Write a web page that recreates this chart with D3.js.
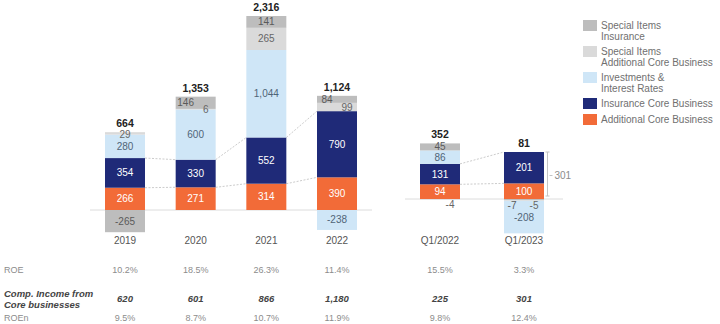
<!DOCTYPE html>
<html>
<head>
<meta charset="utf-8">
<script src="https://cdn.jsdelivr.net/npm/d3@7"></script>
<style>
  body { margin: 0; background: #fff; }
  svg { display: block; font-family: "Liberation Sans", Arial, sans-serif; }
</style>
</head>
<body>
<script>
// values
const annual = ["2019", "2020", "2021", "2022"];
const quarterly = ["Q1/2022", "Q1/2023"];
const categories = annual.concat(quarterly);

const additionalCore = [266, 271, 314, 390, 94, 100];
const insuranceCore = [354, 330, 552, 790, 131, 201];
const investments = [280, 600, 1044, -238, 86, -208];
const specialAdditional = [29, 6, 265, 99, -4, -5];
const specialInsurance = [-265, 146, 141, 84, 45, -7];
const totals = ["664", "1,353", "2,316", "1,124", "352", "81"];

const roe = ["10.2%", "18.5%", "26.3%", "11.4%", "15.5%", "3.3%"];
const compIncome = ["620", "601", "866", "1,180", "225", "301"];
const roen = ["9.5%", "8.7%", "10.7%", "11.9%", "9.8%", "12.4%"];

const width = 720, height = 324;
const barWidth = 40;
const fmt = v => (v < 0 ? "-" : "") + d3.format(",")(Math.abs(v));

// stack order from the baseline upwards
const series = [
    {key: "add", values: additionalCore, fill: "#f26b38", label: "#ffffff", legend: ["Additional Core Business"]},
    {key: "ins", values: insuranceCore, fill: "#1f2a78", label: "#ffffff", legend: ["Insurance Core Business"]},
    {key: "inv", values: investments, fill: "#cfe6f7", label: "#4f6577", legend: ["Investments &", "Interest Rates"]},
    {key: "spAdd", values: specialAdditional, fill: "#dadada", label: "#666666", legend: ["Special Items", "Additional Core Business"], special: true},
    {key: "spIns", values: specialInsurance, fill: "#bdbdbd", label: "#5a5a5a", legend: ["Special Items", "Insurance"], special: true}
];
// below zero the special items sit next to the line
const negOrder = ["spIns", "spAdd", "inv", "ins", "add"];

const svg = d3.select("body").append("svg")
    .attr("width", width)
    .attr("height", height);

const xA = d3.scalePoint().domain(annual).range([125, 337]);
const xQ = d3.scalePoint().domain(quarterly).range([440, 524]);
const yA = d3.scaleLinear().domain([0, 2316]).range([210, 16]);
const yQ = d3.scaleLinear().domain([0, 301]).range([199, 152]);

const xOf = c => annual.includes(c) ? xA(c) : xQ(c);
const yOf = c => annual.includes(c) ? yA : yQ;

// baselines
svg.append("line").attr("x1", 90).attr("x2", 372)
    .attr("y1", yA(0)).attr("y2", yA(0))
    .attr("stroke", "#dcdcdc").attr("stroke-width", 1);
svg.append("line").attr("x1", 405).attr("x2", 563)
    .attr("y1", yQ(0)).attr("y2", yQ(0))
    .attr("stroke", "#dcdcdc").attr("stroke-width", 1);

// connector lines between the core business levels
const connectors = svg.append("g");
[annual, quarterly].forEach(group => {
    for (let k = 0; k < group.length - 1; k++) {
        const a = categories.indexOf(group[k]), b = categories.indexOf(group[k + 1]);
        const y = yOf(group[k]);
        [[additionalCore[a], additionalCore[b]],
         [additionalCore[a] + insuranceCore[a], additionalCore[b] + insuranceCore[b]]].forEach(lv => {
            connectors.append("line")
                .attr("x1", xOf(group[k]) + barWidth / 2)
                .attr("x2", xOf(group[k + 1]) - barWidth / 2)
                .attr("y1", y(lv[0]))
                .attr("y2", y(lv[1]))
                .attr("stroke", "#cccccc")
                .attr("stroke-width", 1)
                .attr("stroke-dasharray", "2,1.5");
        });
    }
});

// build segments
let segments = [];
categories.forEach((c, i) => {
    let pos = 0, neg = 0;
    series.forEach(s => {
        const v = s.values[i];
        if (v > 0) { segments.push({c, i, s, v, y0: pos, y1: pos + v}); pos += v; }
    });
    negOrder.forEach(k => {
        const s = series.find(d => d.key === k);
        const v = s.values[i];
        if (v < 0) { segments.push({c, i, s, v, y0: neg, y1: neg + v}); neg += v; }
    });
    segments.filter(d => d.i === i).forEach(d => d.top = pos);
});

const bars = svg.append("g");
bars.selectAll("rect")
    .data(segments)
    .enter()
    .append("rect")
    .attr("x", d => xOf(d.c) - barWidth / 2)
    .attr("width", barWidth)
    .attr("y", d => Math.min(yOf(d.c)(d.y0), yOf(d.c)(d.y1)))
    .attr("height", d => Math.max(0.6, Math.abs(yOf(d.c)(d.y1) - yOf(d.c)(d.y0))))
    .attr("fill", d => d.s.fill);

// where the number goes
function labelPos(d) {
    const y = yOf(d.c);
    const cx = xOf(d.c);
    const h = Math.abs(y(d.y1) - y(d.y0));
    let px = cx, py = (y(d.y0) + y(d.y1)) / 2;
    if (d.s.special) {
        const other = d.s.key === "spIns" ? specialAdditional[d.i] : specialInsurance[d.i];
        const oh = Math.abs(y(other) - y(0));
        const small = h < 10 || oh < 10;
        if (d.v < 0 && h < 10) {
            py = y(d.y1) + 5;
            px = cx + (d.s.key === "spIns" ? -12 : 10);
        } else if (small && other * d.v > 0) {
            px = cx + (d.s.key === "spIns" ? -10 : 10);
        } else if (h < 5) {
            py += 1;
        }
    }
    return [px, py];
}

bars.selectAll("text")
    .data(segments)
    .enter()
    .append("text")
    .attr("x", d => labelPos(d)[0])
    .attr("y", d => labelPos(d)[1])
    .attr("dy", "0.35em")
    .attr("text-anchor", "middle")
    .style("font-size", "10px")
    .style("fill", d => d.s.label)
    .text(d => fmt(d.v));

// totals on top
svg.append("g").selectAll("text")
    .data(categories)
    .enter()
    .append("text")
    .attr("x", d => xOf(d))
    .attr("y", (d, i) => yOf(d)(segments.find(s => s.i === i).top) - 5)
    .attr("text-anchor", "middle")
    .style("font-size", "10.5px")
    .style("font-weight", "bold")
    .style("fill", "#222")
    .text((d, i) => totals[i]);

// bracket for the core result of Q1/2023
const qLast = categories.length - 1;
const core = additionalCore[qLast] + insuranceCore[qLast];
const bx = xQ(quarterly[1]) + barWidth / 2 + 3.5;
const br = svg.append("g").attr("stroke", "#c4c4c4").attr("stroke-width", 1);
br.append("line").attr("x1", bx).attr("x2", bx).attr("y1", yQ(core)).attr("y2", yQ(0) - 3);
br.append("line").attr("x1", bx - 2).attr("x2", bx + 2).attr("y1", yQ(core)).attr("y2", yQ(core));
br.append("line").attr("x1", bx - 2).attr("x2", bx + 2).attr("y1", yQ(0) - 3).attr("y2", yQ(0) - 3);
br.append("line").attr("x1", bx + 2).attr("x2", bx + 5).attr("y1", yQ(core / 2)).attr("y2", yQ(core / 2));
svg.append("text")
    .attr("x", bx + 7)
    .attr("y", yQ(core / 2))
    .attr("dy", "0.35em")
    .style("font-size", "10px")
    .style("fill", "#8c8c8c")
    .text(core);

// category labels
svg.append("g").selectAll("text")
    .data(categories)
    .enter()
    .append("text")
    .attr("x", d => xOf(d))
    .attr("y", 244)
    .attr("text-anchor", "middle")
    .style("font-size", "10px")
    .style("fill", "#555")
    .text(d => d);

// table below the chart
const table = svg.append("g");
table.append("text").attr("x", 4).attr("y", 273)
    .style("font-size", "9px").style("fill", "#8c8c8c").text("ROE");
table.append("text").attr("x", 4).attr("y", 297)
    .style("font-size", "9.5px").style("font-weight", "bold").style("font-style", "italic")
    .style("fill", "#444").text("Comp. Income from");
table.append("text").attr("x", 4).attr("y", 308)
    .style("font-size", "9.5px").style("font-weight", "bold").style("font-style", "italic")
    .style("fill", "#444").text("Core businesses");
table.append("text").attr("x", 4).attr("y", 321)
    .style("font-size", "9px").style("fill", "#8c8c8c").text("ROEn");

const rows = [
    {vals: roe, y: 273, bold: false},
    {vals: compIncome, y: 302, bold: true},
    {vals: roen, y: 321, bold: false}
];
rows.forEach(r => {
    table.append("g").selectAll("text")
        .data(r.vals)
        .enter()
        .append("text")
        .attr("x", (d, i) => xOf(categories[i]))
        .attr("y", r.y)
        .attr("text-anchor", "middle")
        .style("font-size", r.bold ? "9.5px" : "9px")
        .style("font-weight", r.bold ? "bold" : "normal")
        .style("font-style", r.bold ? "italic" : "normal")
        .style("fill", r.bold ? "#444" : "#8c8c8c")
        .text(d => d);
});

// legend, top item is the last series
const legend = svg.append("g").attr("transform", "translate(583, 20)");
let ly = 0;
series.slice().reverse().forEach(s => {
    const item = legend.append("g").attr("transform", "translate(0," + ly + ")");
    item.append("rect")
        .attr("width", 14).attr("height", 11)
        .attr("fill", s.fill);
    s.legend.forEach((t, j) => {
        item.append("text")
            .attr("x", 18)
            .attr("y", s.legend.length > 1 ? 5 + j * 11.5 : 5.5)
            .attr("dy", "0.35em")
            .style("font-size", "10px")
            .style("fill", "#707070")
            .text(t);
    });
    ly += s.legend.length > 1 ? 26 : 16;
});
</script>
</body>
</html>
